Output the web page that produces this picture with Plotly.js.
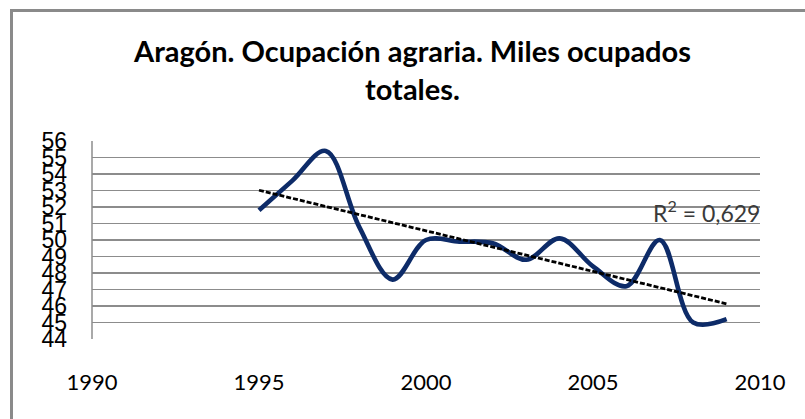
<!DOCTYPE html>
<html>
<head>
<meta charset="utf-8">
<script src="https://cdn.plot.ly/plotly-3.0.1.min.js"></script>
<style>
  html, body { margin: 0; padding: 0; background: #fff; overflow: hidden; }
  #frame { position: absolute; left: 10px; top: 9px; width: 900px; height: 600px;
           border: 3px solid #8a8a8a; box-sizing: border-box; pointer-events: none; }
  #chart { position: absolute; left: 0; top: 0; width: 805px; height: 419px; }
</style>
</head>
<body>
<div id="chart"></div>
<div id="frame"></div>
<script>
// Data
const years = [1995, 1996, 1997, 1998, 1999, 2000, 2001, 2002, 2003, 2004, 2005, 2006, 2007, 2008, 2009];
const ocupados = [51.8, 53.6, 55.4, 50.8, 47.6, 50.0, 49.9, 49.8, 48.8, 50.1, 48.4, 47.2, 50.0, 45.0, 45.2];
const yTicks = [44, 45, 46, 47, 48, 49, 50, 51, 52, 53, 54, 55, 56];
const xTicks = [1990, 1995, 2000, 2005, 2010];
const titleText = "Aragón. Ocupación agraria. Miles ocupados<br>totales.";
const r2Text = "R<sup>2</sup> = 0,629";

// Linear trend (least squares) computed from the data
const n = years.length;
const mx = years.reduce((a, b) => a + b, 0) / n;
const my = ocupados.reduce((a, b) => a + b, 0) / n;
let sxy = 0, sxx = 0;
for (let i = 0; i < n; i++) { sxy += (years[i] - mx) * (ocupados[i] - my); sxx += (years[i] - mx) ** 2; }
const slope = sxy / sxx;
const intercept = my - slope * mx;
const trendX = [years[0], years[n - 1]];
const trendY = trendX.map(x => intercept + slope * x);

const traces = [
  {
    x: years, y: ocupados, type: 'scatter', mode: 'lines',
    line: { color: '#0d2b68', width: 4.6, shape: 'spline', smoothing: 1 },
    hoverinfo: 'skip', showlegend: false
  },
  {
    x: trendX, y: trendY, type: 'scatter', mode: 'lines',
    line: { color: '#000000', width: 2.8, dash: '5px,2px' },
    hoverinfo: 'skip', showlegend: false
  }
];

const layout = {
  width: 805, height: 419,
  margin: { l: 92, r: 45, t: 141, b: 80, pad: 0 },
  paper_bgcolor: '#ffffff', plot_bgcolor: '#ffffff',
  showlegend: false,
  title: {
    text: titleText,
    font: { family: 'Lato, Carlito, sans-serif', size: 29, color: '#000000', weight: 'bold' },
    xref: 'container', x: 412.5 / 805, xanchor: 'center',
    yref: 'container', y: 1 - 62 / 419, yanchor: 'top'
  },
  xaxis: {
    range: [1990, 2010], tickvals: xTicks, ticktext: xTicks.map(String),
    showgrid: false, zeroline: false, showline: false, ticks: '',
    tickfont: { family: 'Lato, Carlito, sans-serif', size: 22, color: '#000000' },
    ticklabelstandoff: 28
  },
  yaxis: {
    range: [44, 56], tickvals: yTicks, ticktext: yTicks.map(String),
    showgrid: true, gridcolor: '#8c8c8c', gridwidth: 1.5,
    zeroline: false, showline: false, ticks: '',
    tickfont: { family: 'Liberation Sans, Arial, sans-serif', size: 23, color: '#000000' },
    ticklabelstandoff: 24
  },
  shapes: [
    { type: 'line', xref: 'paper', yref: 'paper', x0: 0, x1: 0, y0: 0, y1: 1,
      line: { color: '#8c8c8c', width: 1.5 } }
  ],
  annotations: [
    { text: r2Text, xref: 'paper', x: 1, xanchor: 'right', xshift: 2, yref: 'y', y: 51.7, yanchor: 'middle',
      showarrow: false, font: { family: 'Lato, Carlito, sans-serif', size: 23, color: '#3a3a3a' } }
  ]
};

Plotly.newPlot('chart', traces, layout, { staticPlot: true, displayModeBar: false });
</script>
</body>
</html>
